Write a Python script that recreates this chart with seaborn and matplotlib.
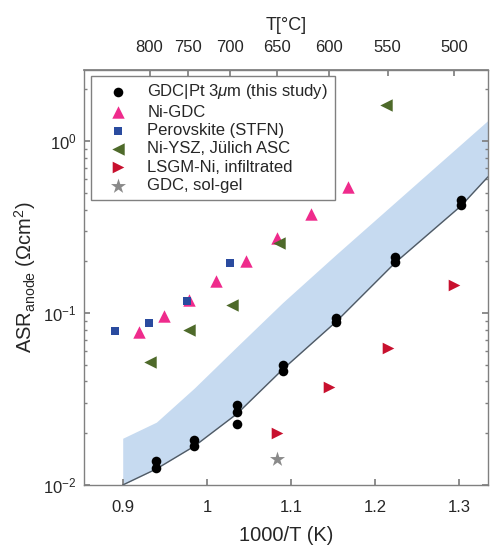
import numpy as np
import matplotlib
matplotlib.use("Agg")
import matplotlib.pyplot as plt
from matplotlib.ticker import LogLocator, NullLocator, FixedLocator, FixedFormatter
import seaborn as sns

# ---------------- data ----------------
gdc_x = [0.940, 0.940, 0.985, 0.985, 1.036, 1.036, 1.036, 1.091, 1.091,
         1.1535, 1.1535, 1.2236, 1.2236, 1.302, 1.302]
gdc_y = [0.0137, 0.0125, 0.0183, 0.0169, 0.0292, 0.0267, 0.0226, 0.0499, 0.0462,
         0.0931, 0.0890, 0.211, 0.199, 0.454, 0.425]

nigdc_x = [0.9194, 0.949, 0.979, 1.0105, 1.0465, 1.083, 1.1238, 1.1674]
nigdc_y = [0.0778, 0.0961, 0.119, 0.1535, 0.2014, 0.2718, 0.375, 0.542]

perov_x = [0.8908, 0.9316, 0.9768, 1.0279]
perov_y = [0.0789, 0.0871, 0.1179, 0.1945]

niysz_x = [0.9324, 0.9788, 1.0302, 1.0861, 1.213]
niysz_y = [0.0521, 0.0796, 0.111, 0.254, 1.62]

lsgm_x = [1.0837, 1.1455, 1.2157, 1.2937]
lsgm_y = [0.0200, 0.0373, 0.0623, 0.1455]

solgel_x = [1.083]
solgel_y = [0.0141]

band_x = [0.900, 0.940, 0.985, 1.036, 1.090, 1.1535, 1.2236, 1.302, 1.334]
band_lo = [0.0100, 0.0124, 0.0168, 0.0260, 0.0470, 0.0890, 0.196, 0.420, 0.620]
band_hi = [0.0187, 0.0232, 0.0366, 0.0640, 0.115, 0.219, 0.440, 0.960, 1.32]

x_ticks = [0.9, 1.0, 1.1, 1.2, 1.3]
x_tick_labels = ["0.9", "1", "1.1", "1.2", "1.3"]
t_ticks = [800, 750, 700, 650, 600, 550, 500]

labels = ["GDC|Pt 3$\\mu$m (this study)", "Ni-GDC", "Perovskite (STFN)",
          "Ni-YSZ, Jülich ASC", "LSGM-Ni, infiltrated", "GDC, sol-gel"]

# ---------------- style ----------------
sns.set_theme(style="white")
plt.rcParams["font.family"] = ["Liberation Sans", "DejaVu Sans"]
plt.rcParams["mathtext.fontset"] = "custom"
plt.rcParams["mathtext.rm"] = "Liberation Sans"
plt.rcParams["mathtext.it"] = "Liberation Sans:italic"
plt.rcParams["mathtext.sf"] = "Liberation Sans"
plt.rcParams["mathtext.bf"] = "Liberation Sans:bold"

TXT = "#262626"
SPN = "#808080"

fig = plt.figure(figsize=(4.9, 5.45), dpi=100)
ax = fig.add_axes([84 / 490, 60 / 545, 404 / 490, 415 / 545])

# band + curve
ax.fill_between(band_x, band_lo, band_hi, color="#c6daf0", lw=0, zorder=0.5)
sns.lineplot(x=band_x, y=band_lo, color="#505a64", lw=1.0, ax=ax, legend=False, zorder=1)

# scatter series
sns.scatterplot(x=gdc_x, y=gdc_y, marker="o", color="black", s=48, linewidth=0,
                ax=ax, label=labels[0], zorder=5)
sns.scatterplot(x=nigdc_x, y=nigdc_y, marker="^", color="#ef2b8c", s=80, linewidth=0,
                ax=ax, label=labels[1], zorder=3)
sns.scatterplot(x=perov_x, y=perov_y, marker="s", color="#2a4b9f", s=38, linewidth=0,
                ax=ax, label=labels[2], zorder=4)
sns.scatterplot(x=niysz_x, y=niysz_y, marker="<", color="#4e6a2a", s=80, linewidth=0,
                ax=ax, label=labels[3], zorder=3)
sns.scatterplot(x=lsgm_x, y=lsgm_y, marker=">", color="#c8102e", s=70, linewidth=0,
                ax=ax, label=labels[4], zorder=3)
sns.scatterplot(x=solgel_x, y=solgel_y, marker="*", color="#8a8a8a", s=130, linewidth=0,
                ax=ax, label=labels[5], zorder=3)

# axes
ax.set_yscale("log")
ax.set_xlim(0.854, 1.334)
ax.set_ylim(0.01, 2.59)
ax.xaxis.set_major_locator(FixedLocator(x_ticks))
ax.xaxis.set_major_formatter(FixedFormatter(x_tick_labels))
ax.xaxis.set_minor_locator(NullLocator())
ax.yaxis.set_major_locator(LogLocator(base=10, numticks=10))
ax.yaxis.set_minor_locator(LogLocator(base=10, subs=np.arange(2, 10), numticks=20))

ax.tick_params(which="both", direction="in", bottom=True, left=True, right=True, top=False,
               color=SPN, labelcolor=TXT, labelsize=12)
ax.tick_params(axis="x", which="major", length=4, pad=10.5)
ax.tick_params(axis="y", which="major", length=4, pad=5.5)
ax.tick_params(axis="y", which="minor", length=2.5)

for s in ax.spines.values():
    s.set_color(SPN)
    s.set_linewidth(1.0)

ax.set_xlabel("1000/T (K)", fontsize=14.5, color=TXT, labelpad=8)
ax.set_ylabel("ASR$_{\\mathrm{anode}}$ ($\\Omega$cm$^2$)", fontsize=14.5, color=TXT)
ax.yaxis.set_label_coords(-0.114, 0.5)


def to_c(x):
    x = np.asarray(x, dtype=float)
    with np.errstate(divide="ignore", invalid="ignore"):
        return 1000.0 / x - 273.15


def to_inv(t):
    t = np.asarray(t, dtype=float)
    with np.errstate(divide="ignore", invalid="ignore"):
        return 1000.0 / (t + 273.15)


sec = ax.secondary_xaxis("top", functions=(to_c, to_inv))
sec.xaxis.set_major_locator(FixedLocator(t_ticks))
sec.xaxis.set_minor_locator(NullLocator())
sec.tick_params(direction="in", length=4, pad=11, color=SPN, labelcolor=TXT, labelsize=12)
sec.spines["top"].set_color(SPN)
sec.set_xlabel("T[°C]", fontsize=13, color=TXT, labelpad=7)

leg = ax.legend(loc="upper left", bbox_to_anchor=(0.017, 0.986), borderaxespad=0,
                frameon=True, fancybox=False, framealpha=1, edgecolor=SPN,
                fontsize=12, handlelength=2.46, handletextpad=0.52,
                labelspacing=0.2, borderpad=0.4)
leg.get_frame().set_linewidth(1.0)
for t in leg.get_texts():
    t.set_color(TXT)

fig.savefig("out.png", dpi=100)
